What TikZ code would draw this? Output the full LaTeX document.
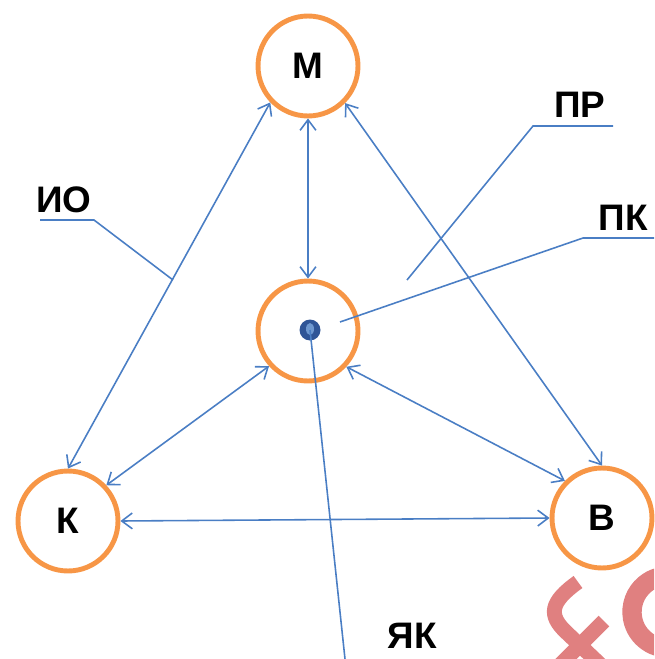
\documentclass[tikz,border=0pt]{standalone}
\usepackage{fontspec}
\setmainfont{Liberation Sans}
\usetikzlibrary{arrows.meta}

\definecolor{ringorange}{HTML}{F79646}
\definecolor{lineblue}{HTML}{4A7EC4}
\definecolor{dotblue}{HTML}{2F5597}
\definecolor{markred}{HTML}{E08080}

\begin{document}
\begin{tikzpicture}[x=0.02cm, y=-0.02cm,
            ring/.style={circle, draw=ringorange, line width=2.8pt, minimum size=2cm, inner sep=0pt,
                font=\fontsize{21}{25}\selectfont\bfseries},
            link/.style={{Straight Barb[length=6pt,width=9pt]}-{Straight Barb[length=6pt,width=9pt]}, draw=lineblue, line width=0.9pt},
            leader/.style={draw=lineblue, line width=0.9pt},
            tag/.style={font=\fontsize{21}{25}\selectfont\bfseries, inner sep=0pt}
        ]
            \useasboundingbox (0,0) rectangle (654,659);

            % Rings
            \node[ring] (m) at (308,66) {М};
            \node[ring] (c) at (308,331) {};
            \node[ring] (k) at (68,521) {К};
            \node[ring] (b) at (602,518) {В};

            % Dot in the middle ring
            \node[circle, fill=dotblue, minimum size=0.42cm, inner sep=0pt] (dot) at (310,330) {};
            \fill[lineblue!80!white] (dot.center) ++(0,-1) ellipse (4 and 6);

            % Two-way links
            \draw[link] (m.south) -- (c.north);
            \draw[link] (m.224) -- (k.north);
            \draw[link] (m.-45) -- (b.north);
            \draw[link] (c.222) -- (k.43);
            \draw[link] (c.-43) -- (b.135);
            \draw[link] (k.east) -- (b.west);

            % Labels with leader lines
            \node[tag] (io) at (64,200) {ИО};
            \coordinate (io-a) at (40,220);
            \coordinate (io-b) at (94,220);
            \coordinate (io-c) at (173,280);
            \draw[leader] (io-a) -- (io-b) -- (io-c);

            \node[tag] (pr) at (580,105) {ПР};
            \coordinate (pr-a) at (613,126);
            \coordinate (pr-b) at (533,126);
            \coordinate (pr-c) at (407,280);
            \draw[leader] (pr-a) -- (pr-b) -- (pr-c);

            \node[tag] (pk) at (623,218) {ПК};
            \coordinate (pk-a) at (654,238);
            \coordinate (pk-b) at (583,238);
            \coordinate (pk-c) at (340,322);
            \draw[leader] (pk-a) -- (pk-b) -- (pk-c);

            \node[tag] (yk) at (412,636) {ЯК};
            \coordinate (yk-a) at (345,659);
            \draw[leader] (dot.center) -- (yk-a);

            % Corner mark
            \begin{scope}
                \clip (0,0) rectangle (654,659);
                \draw[markred, line width=8.5pt] (578,582) .. controls (550,602) and (548,615) .. (566,632) -- (606,670);
                \draw[markred, line width=8.5pt] (604,621) -- (556,669);
                \draw[markred, line width=11pt] (668,612) ++(80:36) arc[start angle=80, end angle=280, radius=36];
            \end{scope}

        \end{tikzpicture}
\end{document}
